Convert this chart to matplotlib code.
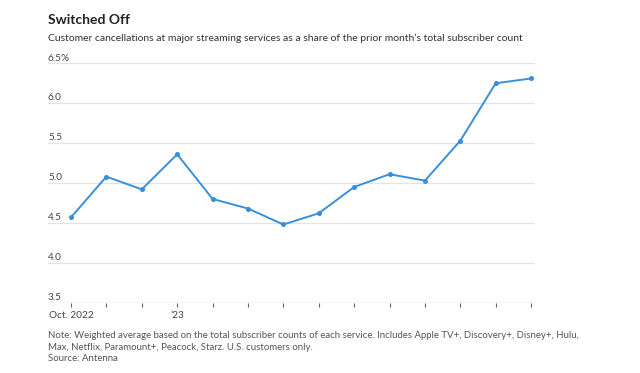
import matplotlib
matplotlib.use('Agg')
import matplotlib.pyplot as plt
import matplotlib.transforms as mtransforms

plt.rcParams['font.family'] = ['Lato', 'DejaVu Sans']

# data
months = ['Oct. 2022', 'Nov', 'Dec', '’23', 'Feb', 'Mar', 'Apr', 'May',
          'Jun', 'Jul', 'Aug', 'Sep', 'Oct', 'Nov']
churn = [4.57, 5.08, 4.92, 5.36, 4.80, 4.68, 4.48, 4.62,
         4.95, 5.11, 5.03, 5.53, 6.25, 6.31]
y_ticks = [3.5, 4.0, 4.5, 5.0, 5.5, 6.0, 6.5]
y_labels = ['3.5', '4.0', '4.5', '5.0', '5.5', '6.0', '6.5%']
x_labels = {0: 'Oct. 2022', 3: '’23'}

fig = plt.figure(figsize=(6.4, 3.73), dpi=100)
ax = fig.add_axes([48 / 640, 1 - 302.7 / 373, 487 / 640, 239.4 / 373])

x = list(range(len(churn)))
ax.plot(x, churn, color='#3a8fd9', lw=1.4, marker='o', ms=2.6, zorder=3)

ax.set_ylim(3.5, 6.5)
ax.set_xlim(-0.65, 13.11)

# gridlines
for t in y_ticks[1:]:
    ax.axhline(t, color='#e3e3e3', lw=0.9, zorder=1)
ax.axhline(3.5, color='#cfcfcf', lw=1.0, zorder=2)

for s in ax.spines.values():
    s.set_visible(False)
ax.set_yticks([])
ax.set_xticks(x)
ax.set_xticklabels([x_labels.get(i, '') for i in x], fontsize=7.2, color='#444444')
ax.tick_params(axis='x', length=3, width=0.8, color='#666666', pad=3)

# y labels sit just above the gridlines, at left edge
trans = mtransforms.blended_transform_factory(ax.transAxes, ax.transData)
for t, lab in zip(y_ticks, y_labels):
    ax.text(0, t + 0.01, lab, transform=trans, ha='left', va='bottom',
            fontsize=7.2, color='#444444')

fig.text(48 / 640, 1 - 20 / 373, 'Switched Off', fontsize=10, fontweight='bold',
         color='#222222', va='center', ha='left')
fig.text(48 / 640, 1 - 38 / 373,
         'Customer cancellations at major streaming services as a share of the prior month’s total subscriber count',
         fontsize=7.5, color='#333333', va='center', ha='left')

note = ('Note: Weighted average based on the total subscriber counts of each service. Includes Apple TV+, Discovery+, Disney+, Hulu,\n'
        'Max, Netflix, Paramount+, Peacock, Starz. U.S. customers only.\n'
        'Source: Antenna')
fig.text(48 / 640, 1 - 331.5 / 373, note, fontsize=6.9, color='#555555',
         va='top', ha='left', linespacing=1.3)

fig.savefig('out.png', dpi=100)
